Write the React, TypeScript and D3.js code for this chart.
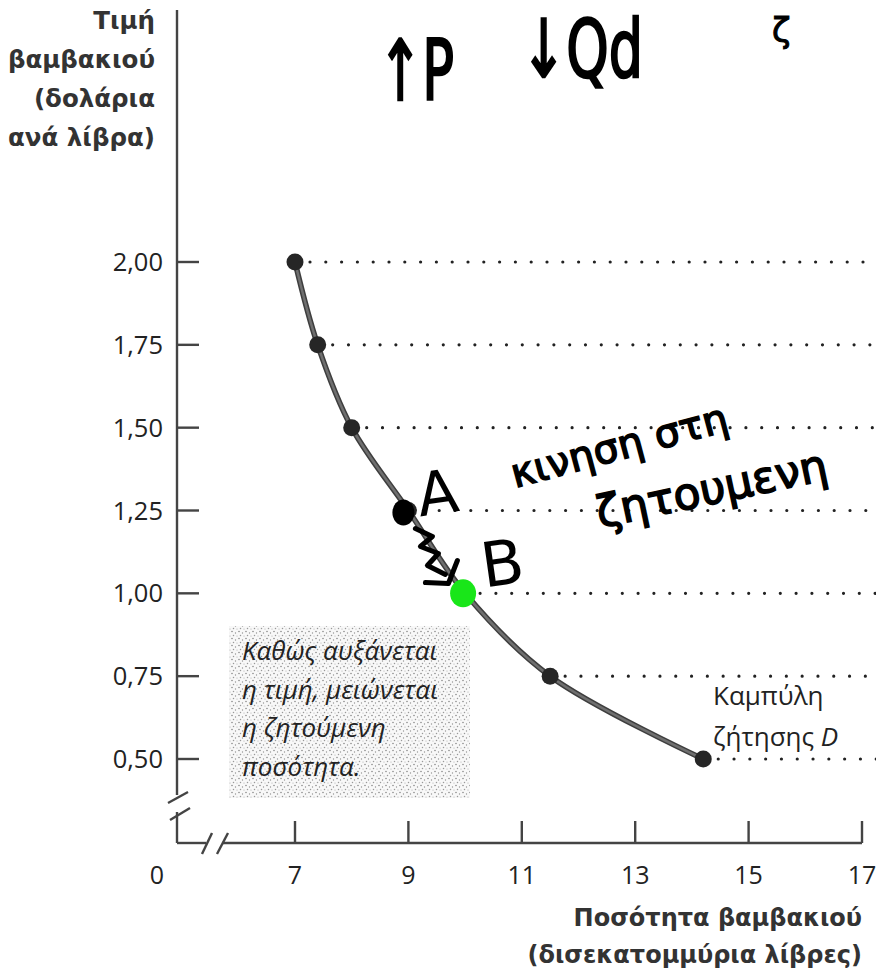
import * as d3 from "d3";

// demand schedule
const prices = [2.0, 1.75, 1.5, 1.25, 1.0, 0.75, 0.5];
const quantities = [7, 7.4, 8, 9, 10, 11.5, 14.2];

const yTicks = [0.5, 0.75, 1.0, 1.25, 1.5, 1.75, 2.0];
const yTickLabels = ["0,50", "0,75", "1,00", "1,25", "1,50", "1,75", "2,00"];
const xTicks = [7, 9, 11, 13, 15, 17];

const yTitle = ["Τιμή", "βαμβακιού", "(δολάρια", "ανά λίβρα)"];
const xTitle = ["Ποσότητα βαμβακιού", "(δισεκατομμύρια λίβρες)"];
const noteLines = ["Καθώς αυξάνεται", "η τιμή, μειώνεται", "η ζητούμενη", "ποσότητα."];

// handwritten marks on the scan
const pointA = { q: 9, p: 1.25 };
const pointB = { q: 10, p: 1.0 };

const W = 876;
const H = 976;
const axisX = 177;
const axisY = 843;

const printFont = "'Open Sans', 'Noto Sans', sans-serif";
const titleFont = "'DejaVu Sans', sans-serif";
const handFont = "'DejaVu Sans', sans-serif";

export default function App() {
    const x = d3.scaleLinear().domain([7, 17]).range([295, 862]);
    const y = d3.scaleLinear().domain([0.5, 2.0]).range([759, 262]);

    const pts = quantities.map((q, i) => [x(q), y(prices[i])] as [number, number]);
    const curve = d3.line().curve(d3.curveCatmullRom.alpha(0.5))(pts) || "";

    const ax = x(pointA.q) - 5;
    const ay = y(pointA.p) + 2;
    const bx = x(pointB.q) - 2;
    const by = y(pointB.p);

    // little zigzag arrow from A down to B
    const zig = d3.line()([
        [ax + 12, ay + 16],
        [ax + 29, ay + 24],
        [ax + 17, ay + 34],
        [ax + 35, ay + 41],
        [ax + 24, ay + 53],
        [ax + 42, ay + 62],
    ]) || "";
    const head = d3.line()([
        [ax + 22, ay + 70],
        [ax + 45, ay + 71],
        [ax + 54, ay + 48],
    ]) || "";

    return (
        <svg width={W} height={H} style={{ position: "absolute", left: 0, top: 0, background: "#fff" }}>
            <defs>
                <pattern id="stipple" width="7" height="7" patternUnits="userSpaceOnUse">
                    <rect width="7" height="7" fill="#f8f8f8" />
                    <circle cx="1" cy="1.5" r="0.75" fill="#808080" />
                    <circle cx="4.5" cy="3" r="0.65" fill="#959595" />
                    <circle cx="2.5" cy="5.5" r="0.75" fill="#999" />
                    <circle cx="6" cy="6" r="0.55" fill="#aaa" />
                </pattern>
            </defs>

            {/* y axis title */}
            {yTitle.map((t, i) => (
                <text key={t} x={155} y={29 + i * 39} textAnchor="end" fontFamily={titleFont}
                    fontWeight="bold" fontSize={24.5} fill="#333">{t}</text>
            ))}

            {/* note box */}
            <rect x={229} y={626} width={241} height={172} fill="url(#stipple)" />
            {noteLines.map((t, i) => (
                <text key={t} x={242} y={660 + i * 38.5} fontFamily={printFont} fontStyle="italic"
                    fontSize={26} fill="#222">{t}</text>
            ))}

            {/* dotted price lines */}
            {pts.map(([px, py], i) => (
                <line key={"d" + i} x1={px + 15} x2={W + 10} y1={py} y2={py} stroke="#222"
                    strokeWidth={3.2} strokeLinecap="round" strokeDasharray="0 15.8" />
            ))}

            {/* axes */}
            <g stroke="#444" strokeWidth={2.4} fill="none">
                <line x1={axisX} x2={axisX} y1={10} y2={795} />
                <line x1={axisX} x2={axisX} y1={812} y2={axisY} />
                <line x1={168} y1={803} x2={188} y2={792} />
                <line x1={170} y1={820} x2={190} y2={808} />
                <line x1={axisX} x2={206} y1={axisY} y2={axisY} />
                <line x1={222} x2={x(17)} y1={axisY} y2={axisY} />
                <line x1={202} y1={854} x2={212} y2={833} />
                <line x1={217} y1={854} x2={228} y2={833} />
                {yTicks.map(v => (
                    <line key={"yt" + v} x1={axisX} x2={axisX + 22} y1={y(v)} y2={y(v)} />
                ))}
                {xTicks.map(v => (
                    <line key={"xt" + v} x1={x(v)} x2={x(v)} y1={axisY - 22} y2={axisY} />
                ))}
            </g>

            {yTicks.map((v, i) => (
                <text key={"yl" + v} x={163} y={y(v) + 9} textAnchor="end" fontFamily={printFont}
                    fontSize={25.5} fill="#222">{yTickLabels[i]}</text>
            ))}
            <text x={157} y={884} textAnchor="middle" fontFamily={printFont} fontSize={25} fill="#222">0</text>
            {xTicks.map(v => (
                <text key={"xl" + v} x={x(v)} y={884} textAnchor="middle" fontFamily={printFont}
                    fontSize={25} fill="#222">{v}</text>
            ))}

            {/* x axis title */}
            {xTitle.map((t, i) => (
                <text key={t} x={862} y={926 + i * 37} textAnchor="end" fontFamily={titleFont}
                    fontWeight="bold" fontSize={24} fill="#333">{t}</text>
            ))}

            {/* demand curve */}
            <path d={curve} fill="none" stroke="#3e3e3e" strokeWidth={5.5} strokeLinecap="round" />
            <path d={curve} fill="none" stroke="#6f6f6f" strokeWidth={2.5} strokeLinecap="round" />
            {pts.map(([px, py], i) => (
                <circle key={"p" + i} cx={px} cy={py} r={8.5} fill="#262626" />
            ))}

            <text x={713} y={705} fontFamily={printFont} fontSize={26} fill="#222">Καμπύλη</text>
            <text x={713} y={746} fontFamily={printFont} fontSize={26} fill="#222">
                ζήτησης <tspan fontStyle="italic">D</tspan>
            </text>

            {/* handwriting */}
            <g fill="#000" fontFamily={handFont}>
                <ellipse cx={ax} cy={ay} rx={11} ry={13} />
                <ellipse cx={bx} cy={by} rx={13} ry={14} fill="#19e619" />
                <path d={zig} fill="none" stroke="#000" strokeWidth={5} strokeLinejoin="round" strokeLinecap="round" />
                <path d={head} fill="none" stroke="#000" strokeWidth={5} strokeLinejoin="round" strokeLinecap="round" />
                <text x={ax + 16} y={ay + 4} fontSize={60} transform={`rotate(-8 ${ax + 16} ${ay})`}>A</text>
                <text x={bx + 22} y={by - 6} fontSize={62} transform={`rotate(-8 ${bx + 22} ${by})`}>B</text>
                <text x={378} y={100} fontSize={84} textLength={76} lengthAdjust="spacingAndGlyphs"
                    stroke="#000" strokeWidth={2.5}>↑P</text>
                <text x={521} y={77} fontSize={80} textLength={122} lengthAdjust="spacingAndGlyphs"
                    stroke="#000" strokeWidth={2.5}>↓Qd</text>
                <text x={772} y={42} fontSize={34} stroke="#000" strokeWidth={1}>ζ</text>
                <text x={515} y={488} fontSize={40} stroke="#000" strokeWidth={1.5}
                    transform="rotate(-15 515 488)">κινηση στη</text>
                <text x={600} y={528} fontSize={44} stroke="#000" strokeWidth={1.5}
                    transform="rotate(-12 600 528)">ζητουμενη</text>
            </g>
        </svg>
    );
}
